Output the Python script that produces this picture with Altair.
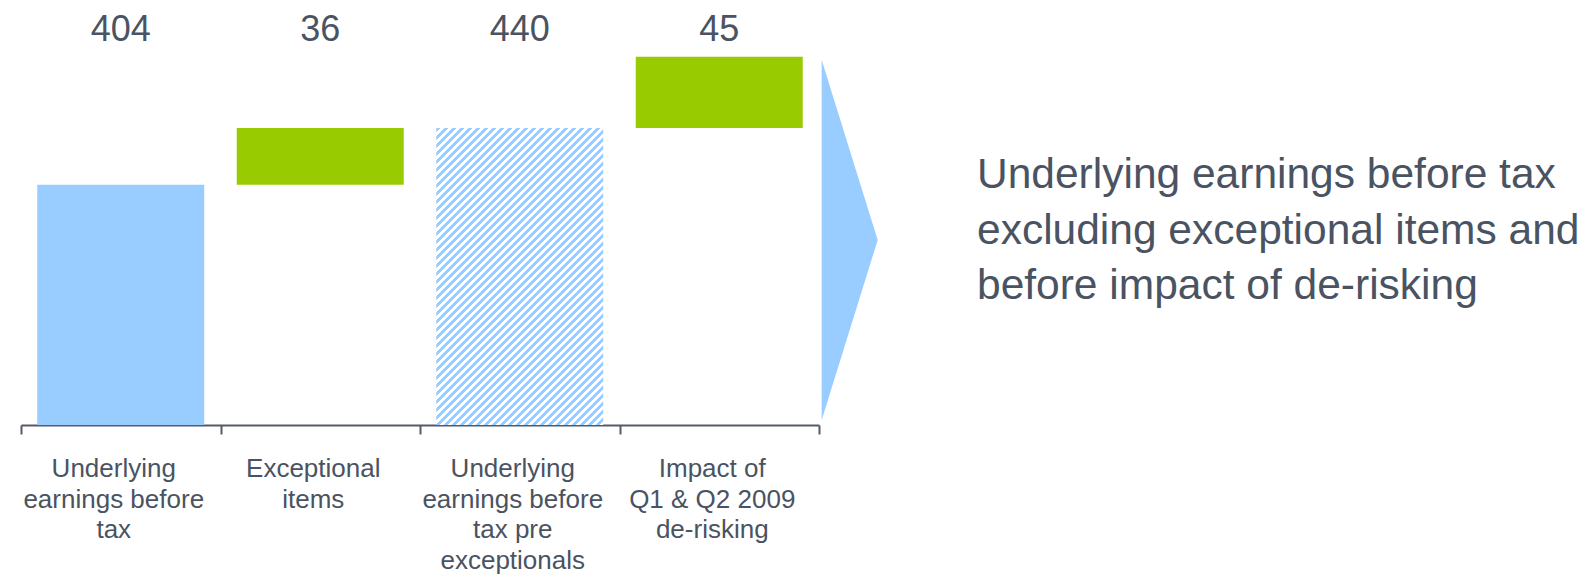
import altair as alt
import pandas as pd

# ---- data ----
categories = [
    "Underlying earnings before tax",
    "Exceptional items",
    "Underlying earnings before tax pre exceptionals",
    "Impact of Q1 & Q2 2009 de-risking",
]
label_lines = [
    "Underlying\nearnings before\ntax",
    "Exceptional\nitems",
    "Underlying\nearnings before\ntax pre\nexceptionals",
    "Impact of\nQ1 & Q2 2009\nde-risking",
]
values = [404, 36, 440, 45]
kinds = ["total", "delta", "subtotal", "delta"]
side_text = "Underlying earnings before tax\nexcluding exceptional items and\nbefore impact of de-risking"

# waterfall start / end
starts, ends = [], []
run = 0
for v, k in zip(values, kinds):
    if k == "delta":
        starts.append(run)
        ends.append(run + v)
        run += v
    else:
        starts.append(0)
        ends.append(v)
        run = v

df = pd.DataFrame({
    "cat": categories, "label": label_lines, "value": values,
    "kind": kinds, "start": starts, "end": ends,
})

BLUE = "#99CCFF"
GREEN = "#99CC00"
TEXT = "#4A5362"
AXIS = "#545B66"
FONT = "Liberation Sans"
BAND = 0.837

W, H = 798, 415
y_scale = alt.Scale(domain=[252, 252 + H / 1.58], clamp=True, zero=False, nice=False)
x_enc = alt.X(
    "cat:N", sort=categories,
    scale=alt.Scale(paddingInner=0, paddingOuter=0),
    axis=alt.Axis(title=None, labels=False, tickBand="extent", tickSize=9,
                  tickWidth=2, tickColor=AXIS, domainColor=AXIS, domainWidth=2,
                  grid=False),
)

base = alt.Chart(df)

solid = base.transform_filter("datum.kind != 'subtotal'").mark_bar(
    opacity=1, width=alt.RelativeBandSize(band=BAND)
).encode(
    x=x_enc,
    y=alt.Y("start:Q", scale=y_scale, axis=None),
    y2="end:Q",
    color=alt.Color("kind:N", scale=alt.Scale(domain=["total", "delta"], range=[BLUE, GREEN]), legend=None),
)

# diagonal hatch via hard-stop gradient (bbox units, 45 degree stripes)
bw, bh = 167.0, 297.0
r = bw / bh
s = (r + 1) / (r * r + 1)
n_period = 58
frac = 0.55
stops = []
for k in range(n_period):
    a = k / n_period
    b = (k + frac) / n_period
    c = (k + 1) / n_period
    stops += [alt.GradientStop(offset=a, color=BLUE), alt.GradientStop(offset=b, color=BLUE),
              alt.GradientStop(offset=b, color="#FFFFFF"), alt.GradientStop(offset=c, color="#FFFFFF")]
hatch_fill = alt.LinearGradient(gradient="linear", stops=stops, x1=0, y1=0, x2=r * s, y2=s)

hatched = base.transform_filter("datum.kind == 'subtotal'").mark_bar(
    color=hatch_fill, opacity=1, width=alt.RelativeBandSize(band=BAND)
).encode(
    x=x_enc,
    y=alt.Y("start:Q", scale=y_scale, axis=None),
    y2="end:Q",
)

value_labels = base.mark_text(font=FONT, fontSize=36, color=TEXT, baseline="alphabetic").encode(
    x=x_enc, y=alt.value(31), text="value:Q",
)

cat_labels = base.mark_text(font=FONT, fontSize=26, color=TEXT, baseline="alphabetic",
                            lineBreak="\n", lineHeight=30.7, dx=-7).encode(
    x=x_enc, y=alt.value(467), text="label:N",
)

arrow = alt.Chart(pd.DataFrame({"a": [1]})).mark_point(
    shape="M0,-1L0.311,0L0,1Z", size=129600, filled=True, color=BLUE, opacity=1, strokeWidth=0
).encode(x=alt.value(800.7), y=alt.value(230))

side = alt.Chart(pd.DataFrame({"t": [side_text]})).mark_text(
    font=FONT, fontSize=42.5, color=TEXT, align="left", baseline="alphabetic",
    lineBreak="\n", lineHeight=55.5,
).encode(x=alt.value(956), y=alt.value(178), text="t:N")

chart = alt.layer(solid, hatched, value_labels, cat_labels, arrow, side).properties(
    width=W, height=H,
    autosize=alt.AutoSizeParams(type="none"),
    padding={"left": 13, "top": 2, "right": 760, "bottom": 152},
).configure_view(stroke=None)

chart.save("out.html", embed_options={"renderer": "svg", "actions": False})
